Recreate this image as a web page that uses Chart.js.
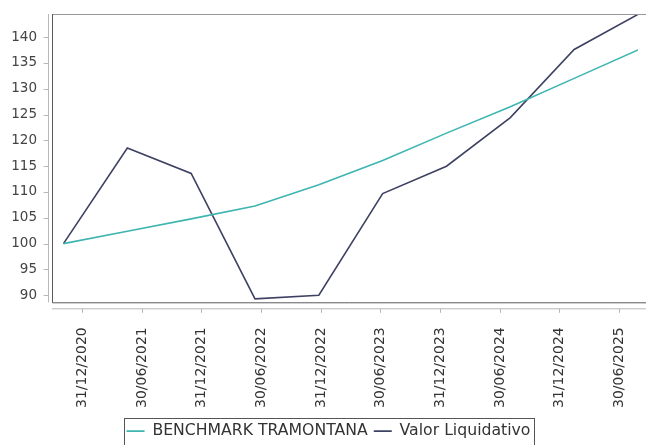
<!DOCTYPE html>
<html>
<head>
<meta charset="utf-8">
<script src="https://cdn.jsdelivr.net/npm/chart.js@4.4.0/dist/chart.umd.min.js"></script>
<style>
  html, body { margin: 0; padding: 0; background: #fff; }
</style>
</head>
<body>
<canvas id="navChart" width="646" height="445"></canvas>
<script>
// Data points are evenly spaced on the x axis, the date ticks have their own positions
const pointIndex = [0, 1, 2, 3, 4, 5, 6, 7, 8, 9];
const benchmark = [100, 102.4, 104.8, 107.3, 111.4, 116.1, 121.4, 126.5, 132.0, 137.5];
const valorLiquidativo = [100, 118.5, 113.6, 89.3, 90.0, 109.7, 115.0, 124.4, 137.6, 144.4];

const tickLabels = ['31/12/2020', '30/06/2021', '31/12/2021', '30/06/2022', '31/12/2022',
                    '30/06/2023', '31/12/2023', '30/06/2024', '31/12/2024', '30/06/2025'];
const tickPositions = [0.29, 1.23, 2.16, 3.10, 4.04, 4.96, 5.90, 6.84, 7.77, 8.71];
const yTicks = [90, 95, 100, 105, 110, 115, 120, 125, 130, 135, 140];

const toPoints = (vals) => vals.map((v, i) => ({ x: pointIndex[i], y: v }));

// plot frame, offset axis lines and the border round the legend
const framePlugin = {
    id: 'framePlugin',
    afterLayout(chart) {
        // legend sits a bit right of the canvas centre
        chart.legend.left += 19;
    },
    afterDraw(chart) {
        const { ctx, chartArea: a, scales, width } = chart;
        ctx.save();
        ctx.lineWidth = 1;

        // plot frame: grey top, darker left and bottom, runs off the right edge
        ctx.strokeStyle = '#999999';
        ctx.beginPath();
        ctx.moveTo(a.left, a.top + 0.5);
        ctx.lineTo(width, a.top + 0.5);
        ctx.stroke();
        ctx.strokeStyle = '#5a5a5a';
        ctx.beginPath();
        ctx.moveTo(a.left + 0.5, a.top);
        ctx.lineTo(a.left + 0.5, a.bottom + 0.5);
        ctx.lineTo(width, a.bottom + 0.5);
        ctx.stroke();

        // y axis line + ticks
        ctx.strokeStyle = '#b8b8b8';
        const ax = a.left - 3.5;
        ctx.beginPath();
        ctx.moveTo(ax, a.top);
        ctx.lineTo(ax, a.bottom);
        scales.y.ticks.forEach(t => {
            const py = Math.round(scales.y.getPixelForValue(t.value)) + 0.5;
            ctx.moveTo(ax - 5, py);
            ctx.lineTo(ax, py);
        });
        // x axis line + ticks
        const ay = a.bottom + 6.5;
        ctx.moveTo(a.left, ay);
        ctx.lineTo(width, ay);
        scales.x.ticks.forEach(t => {
            const px = Math.round(scales.x.getPixelForValue(t.value)) + 0.5;
            ctx.moveTo(px, ay);
            ctx.lineTo(px, ay + 4);
        });
        ctx.stroke();

        // legend border
        const boxes = chart.legend.legendHitBoxes;
        if (boxes && boxes.length) {
            const l = boxes[0].left - 3;
            const last = boxes[boxes.length - 1];
            const r = last.left + last.width + 3;
            const top = boxes[0].top - 5;
            ctx.strokeStyle = '#555555';
            ctx.strokeRect(Math.round(l) + 0.5, Math.round(top) + 0.5, Math.round(r - l), 60);
        }
        ctx.restore();
    }
};

new Chart(document.getElementById('navChart'), {
    type: 'line',
    data: {
        datasets: [
            {
                label: 'BENCHMARK TRAMONTANA',
                data: toPoints(benchmark),
                borderColor: '#3db5b1',
                backgroundColor: '#3db5b1',
                borderWidth: 1.6,
                pointRadius: 0,
                tension: 0
            },
            {
                label: 'Valor Liquidativo',
                data: toPoints(valorLiquidativo),
                borderColor: '#3e4262',
                backgroundColor: '#3e4262',
                borderWidth: 1.6,
                pointRadius: 0,
                tension: 0
            }
        ]
    },
    options: {
        responsive: false,
        animation: false,
        devicePixelRatio: 1,
        layout: { padding: { left: 0, right: 8, top: 14, bottom: -4 } },
        plugins: {
            legend: {
                position: 'bottom',
                labels: {
                    usePointStyle: true,
                    pointStyle: 'line',
                    pointStyleWidth: 18,
                    padding: 6,
                    color: '#333333',
                    font: { family: 'DejaVu Sans', size: 15.7 }
                }
            },
            tooltip: { enabled: false }
        },
        scales: {
            x: {
                type: 'linear',
                min: -0.18,
                max: 9,
                afterBuildTicks: (scale) => {
                    scale.ticks = tickPositions.map(v => ({ value: v }));
                },
                afterFit: (scale) => {
                    scale.height = 115;
                    scale.paddingLeft = 0;
                    scale.paddingRight = 0;
                },
                grid: { display: false, drawTicks: false },
                border: { display: false },
                ticks: {
                    autoSkip: false,
                    minRotation: 90,
                    maxRotation: 90,
                    padding: 25,
                    color: '#333333',
                    font: { family: 'DejaVu Sans', size: 14 },
                    callback: (val, i) => tickLabels[i]
                }
            },
            y: {
                min: 88.64,
                max: 144.47,
                afterBuildTicks: (scale) => {
                    scale.ticks = yTicks.map(v => ({ value: v }));
                },
                afterFit: (scale) => {
                    scale.width = 52;
                    scale.paddingTop = 0;
                    scale.paddingBottom = 0;
                },
                grid: { display: false, drawTicks: false },
                border: { display: false },
                ticks: {
                    padding: 15,
                    color: '#444444',
                    font: { family: 'DejaVu Sans', size: 13.5 }
                }
            }
        }
    },
    plugins: [framePlugin]
});
</script>
</body>
</html>
